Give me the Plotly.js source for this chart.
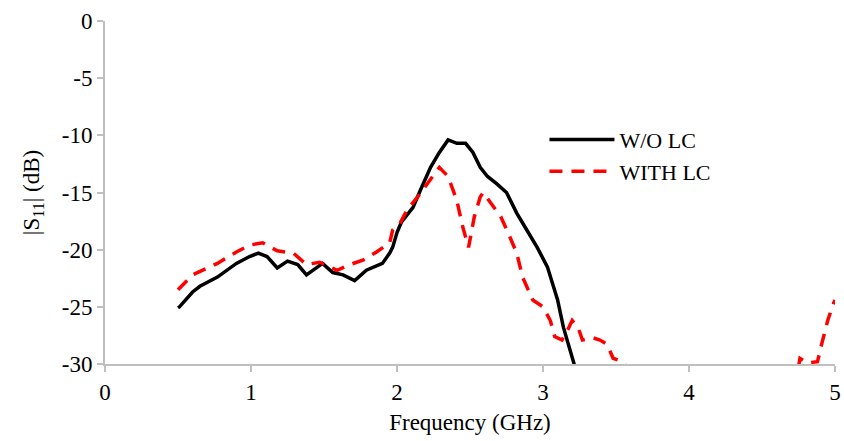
<!DOCTYPE html>
<html>
<head>
<meta charset="utf-8">
<script src="https://cdn.plot.ly/plotly-3.0.1.min.js"></script>
<style>html,body{margin:0;padding:0;background:#fff;}#chart{width:844px;height:441px;}</style>
</head>
<body>
<div id="chart"></div>
<script>
// W/O LC series
const freqWithout = [0.50,0.51,0.60,0.65,0.77,0.90,0.99,1.05,1.11,1.18,1.25,1.32,1.38,1.49,1.56,1.63,1.71,1.79,1.90,1.95,1.97,2.00,2.03,2.07,2.11,2.16,2.23,2.29,2.35,2.41,2.47,2.52,2.57,2.62,2.68,2.75,2.82,2.89,2.96,3.03,3.10,3.14,3.18,3.22];
const s11Without  = [-25.1,-25.0,-23.7,-23.2,-22.4,-21.2,-20.6,-20.3,-20.6,-21.6,-21.0,-21.3,-22.2,-21.2,-22.0,-22.2,-22.7,-21.8,-21.2,-20.3,-19.8,-18.5,-17.6,-16.9,-16.3,-14.8,-12.8,-11.5,-10.4,-10.7,-10.7,-11.5,-12.8,-13.6,-14.2,-15.0,-16.8,-18.3,-19.8,-21.5,-24.4,-26.8,-28.5,-30.3];
// WITH LC series
const freqWith = [0.50,0.60,0.77,0.90,0.99,1.08,1.18,1.29,1.38,1.47,1.59,1.68,1.77,1.86,1.95,1.97,2.02,2.07,2.14,2.21,2.29,2.35,2.41,2.45,2.49,2.53,2.57,2.59,2.64,2.71,2.76,2.82,2.86,2.93,3.00,3.05,3.08,3.13,3.17,3.20,3.24,3.27,3.34,3.39,3.44,3.48,3.55,3.60,4.00,4.50,4.74,4.76,4.81,4.88,4.91,4.95,4.99,5.00];
const s11With  = [-23.5,-22.2,-21.2,-20.2,-19.6,-19.4,-20.1,-20.3,-21.3,-21.1,-21.8,-21.3,-20.9,-20.2,-19.4,-18.3,-17.7,-16.5,-15.4,-14.2,-12.8,-13.6,-15.7,-18.0,-19.8,-17.1,-15.4,-15.0,-15.9,-17.1,-18.5,-20.3,-22.4,-24.4,-25.0,-26.2,-27.6,-27.9,-27.0,-26.2,-26.8,-27.9,-27.7,-27.9,-28.3,-29.5,-29.8,-31.0,-33.0,-33.0,-31.0,-29.5,-29.9,-29.8,-28.2,-26.2,-24.7,-24.4];
const seriesNames = ["W/O LC", "WITH LC"];
const xTicks = [0,1,2,3,4,5];
const yTicks = [0,-5,-10,-15,-20,-25,-30];

const font = {family: "Liberation Serif, Times New Roman, serif", color: "#000", size: 23};
const traces = [
  {x: freqWithout, y: s11Without, name: seriesNames[0], mode: "lines",
   line: {color: "#000000", width: 3.5}},
  {x: freqWith, y: s11With, name: seriesNames[1], mode: "lines",
   line: {color: "#ff0000", width: 3.5, dash: "13px,9px"}}
];
const layout = {
  width: 844, height: 441,
  margin: {l: 105, r: 9, t: 21, b: 77},
  paper_bgcolor: "#fff", plot_bgcolor: "#fff",
  font: font,
  showlegend: true,
  legend: {x: 0.602, y: 0.715, xanchor: "left", yanchor: "top", bgcolor: "rgba(0,0,0,0)",
           font: {family: font.family, size: 22, color: "#000"}, itemwidth: 65, tracegroupgap: 0},
  xaxis: {range: [0, 5], tickvals: xTicks, ticktext: xTicks.map(String),
          showgrid: false, zeroline: false, showline: true, linecolor: "#bfbfbf", linewidth: 2,
          ticks: "outside", ticklen: 6, tickcolor: "#bfbfbf", tickwidth: 2,
          tickfont: font,
          title: {text: "Frequency (GHz)", font: font, standoff: 10}},
  yaxis: {range: [-30, 0], tickvals: yTicks, ticktext: yTicks.map(String),
          showgrid: false, zeroline: false, showline: true, linecolor: "#bfbfbf", linewidth: 2,
          ticks: "outside", ticklen: 6, tickcolor: "#bfbfbf", tickwidth: 2,
          tickfont: font,
          title: {text: "|S<sub>11</sub>| (dB)", font: font, standoff: 16}}
};
Plotly.newPlot("chart", traces, layout, {displayModeBar: false, staticPlot: true});
</script>
</body>
</html>
